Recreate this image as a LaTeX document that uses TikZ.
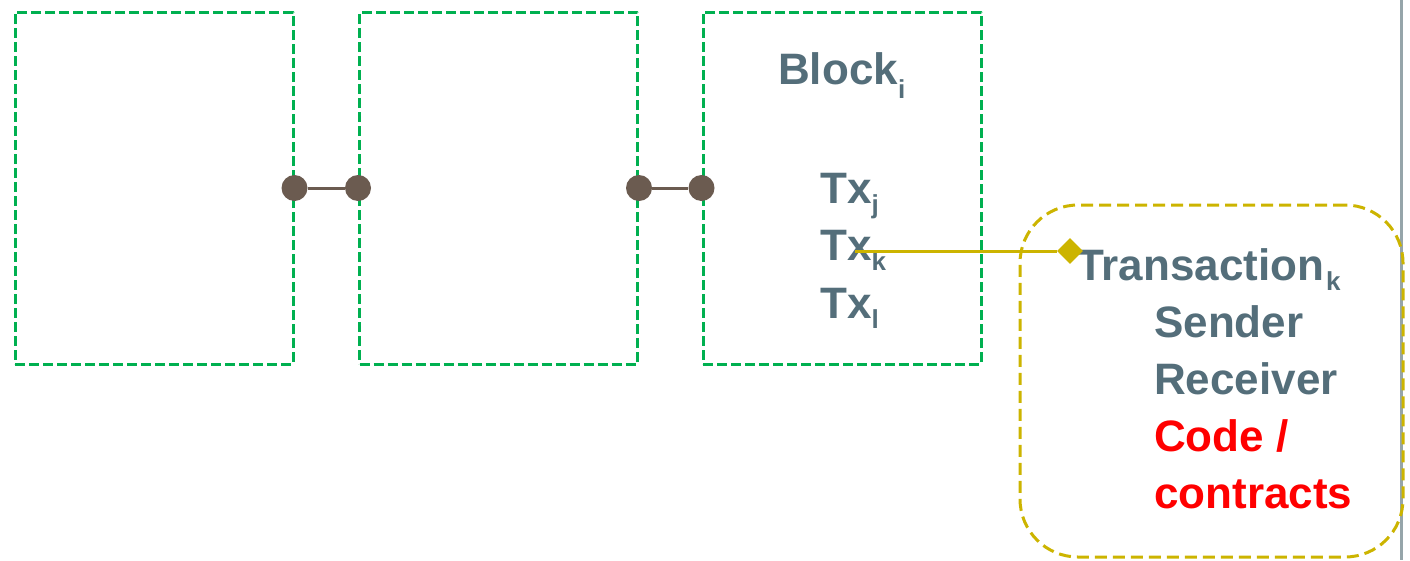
\documentclass[tikz,border=0pt]{standalone}
\usepackage{fontspec}
\setmainfont{Liberation Sans}
\usetikzlibrary{shapes.geometric}
% Farben
\definecolor{blockgreen}{RGB}{0,176,80}
\definecolor{txtslate}{RGB}{84,110,122}
\definecolor{linkbrown}{RGB}{107,91,80}
\definecolor{txyellow}{RGB}{204,180,0}
\definecolor{railgray}{RGB}{150,165,170}
\newcommand{\bigtxt}{\fontsize{44}{53}\selectfont\bfseries}
\newcommand{\subtxt}[2][-0.24em]{\raisebox{#1}{\fontsize{26}{26}\selectfont\bfseries #2}}
\begin{document}
\begin{tikzpicture}[x=1pt,y=-1pt,line join=round,font=\bigtxt,
	blockbox/.style={draw=blockgreen,line width=3pt,dash pattern=on 10pt off 4pt,minimum width=278pt,minimum height=352pt,inner sep=0pt},
	linkdot/.style={circle,fill=linkbrown,minimum size=26pt,inner sep=0pt},
	link/.style={draw=linkbrown,line width=3pt},
	txbox/.style={draw=txyellow,line width=3pt,dash pattern=on 12pt off 6pt,rounded corners=58pt,minimum width=383pt,minimum height=352pt,inner sep=0pt},
	txtag/.style={diamond,fill=txyellow,minimum size=26pt,inner sep=0pt},
	lbl/.style={anchor=base west,text=txtslate,inner sep=0pt},
	codelbl/.style={anchor=base west,text=red,inner sep=0pt}]
	% Rahmen
	\useasboundingbox (0,0) rectangle (1410,560);
	\draw [railgray,line width=3pt] (1401,0)--(1401,560);
	% Bloecke
	\node [blockbox] (blk1) at (154,188) {};
	\node [blockbox] (blk2) at (498.5,188) {};
	\node [blockbox] (blk3) at (842,188) {};
	\node [lbl] (blklbl) at (778,84) {Block\subtxt[-0.32em]{i}};
	\node [lbl] (txj) at (820,203) {Tx\subtxt{j}};
	\node [lbl] (txk) at (820,260) {Tx\subtxt{k}};
	\node [lbl] (txl) at (820,318) {Tx\subtxt{l}};
	% Verbindungen
	\node [linkdot] (d1) at (blk1.east) {};
	\node [linkdot] (d2) at (blk2.west) {};
	\node [linkdot] (d3) at (blk2.east) {};
	\node [linkdot] (d4) at (blk3.west) {};
	\draw [link] (d1)--(d2) (d3)--(d4);
	% Transaktion
	\node [txbox] (txcard) at (1211.5,381) {};
	\node [lbl] (txname) at (1077,280) {Transaction\kern2pt\subtxt{k}};
	\node [lbl] (sender) at (1154,337) {Sender};
	\node [lbl] (receiver) at (1154,394) {Receiver};
	\node [codelbl] (code) at (1154,451) {Code /};
	\node [codelbl] (contracts) at (1154,508) {contracts};
	\coordinate (txkpin) at (855,251);
	\node [txtag] (tag) at (1070,251) {};
	\draw [txyellow,line width=3pt] (txkpin)--(tag);
\end{tikzpicture}
\end{document}
